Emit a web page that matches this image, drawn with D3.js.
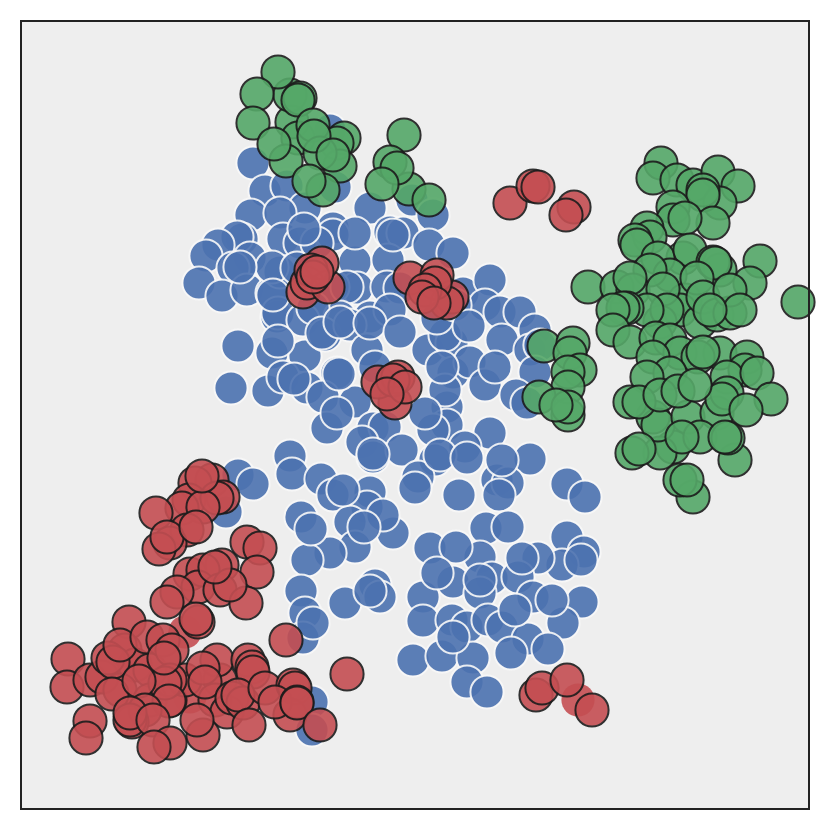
<!DOCTYPE html>
<meta charset="utf-8">
<style>
body { margin: 0; background: #fff; }
</style>
<svg width="830" height="830"></svg>
<script src="https://d3js.org/d3.v7.min.js"></script>
<script>

// points, [x, y], y grows downward
var blue = [[330,130],[253,163],[265,191],[287,186],[335,187],[412,200],[251,215],[305,208],[280,213],[370,208],[433,215],
  [333,228],[333,235],[283,239],[300,243],[317,243],[390,232],[403,233],[429,245],[453,253],
  [242,239],[237,237],[218,245],[206,256],[250,258],[233,268],[199,283],[222,296],[247,290],[272,293],[280,272],[272,267],[297,268],
  [355,262],[388,260],[357,288],[333,287],[347,287],[387,287],[400,288],[370,317],[277,317],[313,310],[340,317],[463,293],
  [238,346],[231,388],[268,391],[272,353],[305,356],[278,313],[303,320],[313,308],[325,335],[322,333],[350,325],[390,310],
  [367,350],[375,367],[428,350],[452,343],[283,377],[307,388],[337,373],[323,397],[355,402],[327,428],[373,428],[385,427],[362,442],[373,457],[402,450],
  [447,407],[447,425],[433,430],[453,373],
  [490,280],[485,305],[500,312],[520,312],[535,330],[502,340],[530,350],[540,345],[470,362],[485,385],[535,372],[516,395],[527,403],[445,390],[445,335],[437,318],[455,305],
  [290,456],[292,474],[238,475],[253,484],[226,512],[321,479],[333,495],[370,492],[393,533],[367,507],[350,522],[301,517],[355,547],[330,553],[307,560],
  [435,460],[490,433],[465,447],[530,459],[497,480],[508,483],[499,495],[418,477],[415,488],[459,495],[567,484],[585,497],[486,528],[508,527],
  [567,537],[584,552],[562,565],[430,548],[480,557],[453,582],[423,597],[423,621],[452,620],[467,627],[492,578],[480,593],[538,558],[518,577],[533,597],[582,602],[563,623],[488,620],[502,627],[528,639],[511,653],[548,649],[413,660],[442,656],[473,658],[467,682],[487,692],
  [301,591],[305,613],[303,638],[375,585],[380,597],[345,603],[312,702],[312,730],
  // these sit on top of the others
  [313,623],[311,529],[343,490],[383,515],[364,527],[370,591],[456,547],[437,573],[480,580],[453,637],[522,558],[581,560],[515,610],[552,600],
  [240,267],[273,295],[304,229],[355,233],[393,235],[278,341],[340,322],[370,323],[400,332],[469,326],[495,367],[442,367],[339,374],[294,379],[337,413],[425,413],[373,454],[440,455],[467,458],[502,460]];

var green = [[292,122],[290,95],[300,98],[298,100],[278,72],[257,94],[253,123],[298,138],[344,138],[337,143],[313,125],[286,161],[274,144],[340,166],[323,190],[320,153],[314,136],[309,181],[333,155],
  [404,135],[390,162],[409,189],[429,200],[397,168],[382,184],
  [661,163],[653,178],[677,180],[693,185],[718,172],[738,186],[720,203],[703,190],[703,195],[673,207],[713,223],[673,220],[685,218],[647,228],[650,237],[635,240],[637,245],
  [760,261],[750,283],[798,302],[683,258],[658,258],[690,250],[670,275],[650,270],[685,300],[680,310],[660,322],[720,270],[713,262],[715,263],[697,278],[588,287],[617,287],[633,290],[630,278],[663,289],[667,310],[647,310],[627,308],[623,308],[613,310],[613,330],[630,342],[656,338],[670,340],[700,322],[703,297],[717,315],[730,313],[730,290],[740,310],[710,310],
  [544,346],[573,343],[570,353],[580,370],[568,372],[568,387],[539,397],[568,415],[568,407],[556,405],
  [680,353],[720,353],[747,357],[745,370],[653,357],[698,357],[703,352],[670,373],[647,377],[727,377],[757,373],
  [653,417],[673,447],[660,453],[658,425],[688,417],[717,413],[700,437],[735,460],[728,438],[725,437],[682,437],[632,453],[639,449],[630,402],[639,402],[660,395],[678,391],[727,393],[722,399],[695,385],[771,399],[746,410],[693,497],[680,480],[687,480]];

var red = [[303,292],[307,283],[328,287],[322,263],[311,270],[313,277],[317,272],
  [410,278],[452,297],[447,303],[437,275],[435,283],[425,290],[422,297],[434,303],
  [395,403],[378,382],[398,377],[393,380],[405,387],[387,394],
  [510,203],[533,186],[538,187],[574,207],[566,215],[536,695],[542,688],[567,680],[592,710],
  [212,480],[195,483],[223,497],[189,500],[182,508],[217,498],[203,507],[156,513],[202,476],[187,530],[170,543],[159,549],[167,537],[196,527],
  [247,542],[260,548],[257,572],[222,565],[190,574],[203,570],[198,587],[220,590],[246,603],[177,592],[230,585],[215,567],[167,602],[198,622],[196,619],
  [129,622],[68,659],[67,687],[90,680],[102,677],[125,650],[135,665],[150,670],[120,690],[150,700],[170,700],[185,680],[108,658],[113,662],[120,645],[147,637],[163,640],[172,650],[170,680],[165,683],[169,701],[164,658],[112,694],[139,681],
  [220,680],[215,700],[217,660],[248,660],[252,667],[253,672],[203,668],[205,682],[227,712],[232,698],[243,703],[238,695],
  [265,688],[293,685],[295,688],[290,715],[275,702],[297,702],[297,703],[249,725],[203,735],[197,720],[320,725],[286,640],[347,674],
  [145,710],[132,722],[130,720],[130,713],[153,720],[170,743],[154,747],[90,721],[86,738]];

// these few have no dark edge in the picture
var redNoEdge = [[578,700],[185,632],[190,697]];

var svg = d3.select("svg");
var margin = {top: 21, right: 21, bottom: 21, left: 21},
    width = +svg.attr("width") - margin.left - margin.right,
    height = +svg.attr("height") - margin.top - margin.bottom;

var x = d3.scaleLinear().domain([21, 809]).range([0, width]),
    y = d3.scaleLinear().domain([21, 809]).range([0, height]);

var g = svg.append("g")
    .attr("transform", "translate(" + margin.left + "," + margin.top + ")");

g.append("rect")
    .attr("width", width)
    .attr("height", height)
    .attr("fill", "#eeeeee");

function drawPoints(data, fill, edge) {
  g.append("g").selectAll("circle")
    .data(data)
    .enter().append("circle")
      .attr("cx", function(d) { return x(d[0]); })
      .attr("cy", function(d) { return y(d[1]); })
      .attr("r", 16.6)
      .attr("fill", fill)
      .attr("stroke", edge)
      .attr("stroke-width", 2)
      .attr("opacity", 0.9);
}

drawPoints(blue, "#4c72b0", "#f8f8f8");
drawPoints(green, "#55a868", "#1c1c1c");
drawPoints(redNoEdge, "#c44e52", "none");
drawPoints(red, "#c44e52", "#1c1c1c");

// frame
g.append("rect")
    .attr("width", width)
    .attr("height", height)
    .attr("fill", "none")
    .attr("stroke", "#222222")
    .attr("stroke-width", 2);

</script>
